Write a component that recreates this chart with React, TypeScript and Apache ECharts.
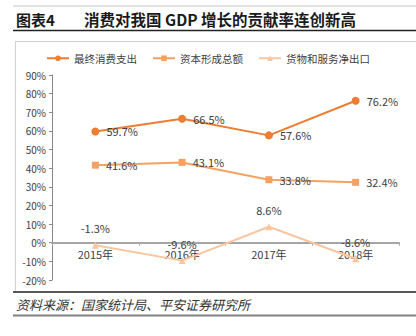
import React, { useEffect, useRef } from "react";
import * as echarts from "echarts";

const categories = ["2015年", "2016年", "2017年", "2018年"];
const consumption = [59.7, 66.5, 57.6, 76.2];
const capital = [41.6, 43.1, 33.8, 32.4];
const netExports = [-1.3, -9.6, 8.6, -8.6];
const seriesNames = ["最终消费支出", "资本形成总额", "货物和服务净出口"];
const yTicks = { min: -20, max: 90, interval: 10 };

const FONT = "'Noto Sans CJK SC', 'Noto Sans', sans-serif";
const GRID = { left: 52, right: 17, top: 75, bottom: 56 };
const H = 336;

export default function App() {
  const ref = useRef<HTMLDivElement>(null);
  useEffect(() => {
    if (!ref.current) return;
    const chart = echarts.init(ref.current, undefined, { renderer: "svg" });
    const plotH = H - GRID.top - GRID.bottom;
    const zeroOffset = (plotH * (0 - yTicks.min)) / (yTicks.max - yTicks.min);
    const lbl = (pos: string) => ({
      show: true,
      position: pos,
      distance: 7,
      formatter: (p: any) => p.value.toFixed(1) + "%",
      color: "#404040",
      fontSize: 11,
      fontFamily: FONT,
    });
    chart.setOption({
      animation: false,
      textStyle: { fontFamily: FONT },
      graphic: [
        { type: "line", shape: { x1: 13, y1: 6, x2: 416, y2: 6 }, style: { stroke: "#C8C8C8", lineWidth: 1 } },
        { type: "text", x: 16, y: 19, style: { text: "图表4", font: `bold 15px ${FONT}`, fill: "#1a1a1a", textVerticalAlign: "middle" } },
        { type: "text", x: 84, y: 19, style: { text: "消费对我国 GDP 增长的贡献率连创新高", font: `bold 15.5px ${FONT}`, fill: "#1a1a1a", textVerticalAlign: "middle" } },
        { type: "line", shape: { x1: 13, y1: 30.5, x2: 416, y2: 30.5 }, style: { stroke: "#222", lineWidth: 1.5 } },
        { type: "line", shape: { x1: 15.5, y1: 41, x2: 15.5, y2: 291 }, style: { stroke: "#D0D0D0", lineWidth: 1 } },
        { type: "line", shape: { x1: 15.5, y1: 41.5, x2: 416, y2: 41.5 }, style: { stroke: "#D0D0D0", lineWidth: 1 } },
        { type: "line", shape: { x1: 13, y1: 292, x2: 416, y2: 292 }, style: { stroke: "#222", lineWidth: 1.5 } },
        { type: "text", x: 16, y: 304, style: { text: "资料来源：国家统计局、平安证券研究所", font: `italic 13px ${FONT}`, fill: "#333", textVerticalAlign: "middle" } },
        { type: "line", shape: { x1: 13, y1: 315.5, x2: 416, y2: 315.5 }, style: { stroke: "#808080", lineWidth: 2 } },
      ],
      legend: {
        top: 48,
        left: "center",
        itemWidth: 22,
        itemHeight: 7,
        itemGap: 15,
        textStyle: { color: "#404040", fontSize: 10.5, fontFamily: FONT },
        data: seriesNames,
      },
      grid: GRID,
      xAxis: {
        type: "category",
        data: categories,
        z: 3,
        position: "bottom",
        offset: -zeroOffset,
        axisLine: { onZero: false, lineStyle: { color: "#A6A6A6", width: 2 } },
        axisTick: { show: true, length: 3, lineStyle: { color: "#A6A6A6" } },
        axisLabel: { color: "#404040", fontSize: 11, margin: 6, backgroundColor: "#fff", fontFamily: FONT },
      },
      yAxis: {
        type: "value",
        min: yTicks.min,
        max: yTicks.max,
        interval: yTicks.interval,
        splitLine: { show: false },
        axisLine: { show: true, lineStyle: { color: "#888" } },
        axisTick: { show: true, length: 3, lineStyle: { color: "#888" } },
        axisLabel: { color: "#404040", fontSize: 10, margin: 6, formatter: "{value}%", fontFamily: FONT },
      },
      series: [
        {
          name: seriesNames[0], type: "line", data: consumption,
          symbol: "circle", symbolSize: 8,
          itemStyle: { color: "#ED7D31" }, lineStyle: { color: "#ED7D31", width: 2 },
          label: lbl("right"),
        },
        {
          name: seriesNames[1], type: "line", data: capital,
          symbol: "rect", symbolSize: 7,
          itemStyle: { color: "#F4A264" }, lineStyle: { color: "#F4A264", width: 2 },
          label: lbl("right"),
        },
        {
          name: seriesNames[2], type: "line", data: netExports,
          symbol: "triangle", symbolSize: 7,
          itemStyle: { color: "#F9C6A0" }, lineStyle: { color: "#F9C6A0", width: 2 },
          label: { ...lbl("top"), distance: 8 },
        },
      ],
    });
    return () => chart.dispose();
  }, []);
  return <div ref={ref} style={{ position: "fixed", left: 0, top: 0, width: 416, height: 336, background: "#fff" }} />;
}
